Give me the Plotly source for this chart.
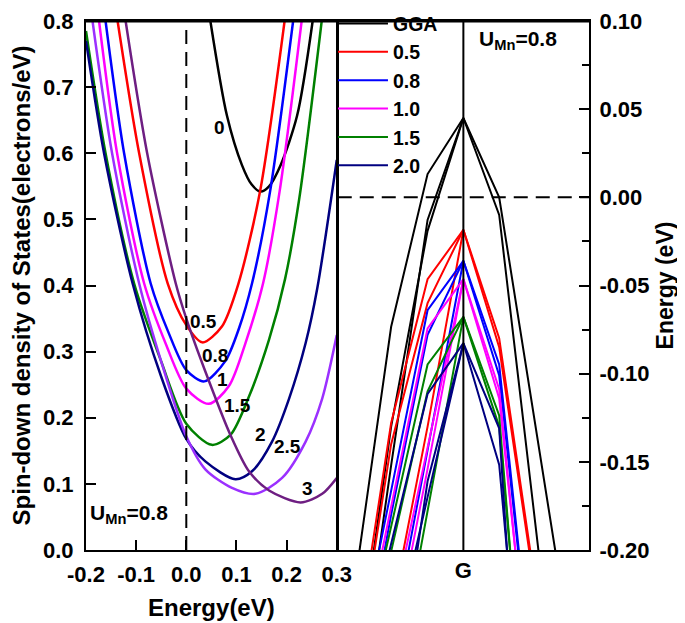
import plotly.graph_objects as go

# ---------------- Left panel: spin-down DOS vs energy ----------------
dos_labels = ["0", "0.5", "0.8", "1", "1.5", "2", "2.5", "3"]
dos_colors = ["#000000", "#FF0000", "#0000FF", "#FF00FF", "#008000", "#000080", "#9B30FF", "#6E1E82"]

e_u0 = [0.048, 0.081, 0.111, 0.130, 0.148, 0.165, 0.188, 0.221, 0.252]
d_u0 = [0.800, 0.657, 0.582, 0.553, 0.542, 0.550, 0.582, 0.657, 0.800]

e_u05 = [-0.137, -0.094, -0.037, 0.000, 0.032, 0.071, 0.104, 0.147, 0.196]
d_u05 = [0.800, 0.600, 0.403, 0.340, 0.314, 0.338, 0.403, 0.542, 0.800]

e_u08 = [-0.161, -0.124, -0.071, -0.035, 0.000, 0.036, 0.078, 0.105, 0.131, 0.167, 0.213]
d_u08 = [0.800, 0.600, 0.403, 0.328, 0.272, 0.255, 0.286, 0.335, 0.403, 0.542, 0.800]

e_u1 = [-0.174, -0.138, -0.084, -0.040, 0.000, 0.045, 0.085, 0.118, 0.153, 0.186, 0.230]
d_u1 = [0.800, 0.600, 0.403, 0.310, 0.244, 0.221, 0.248, 0.313, 0.403, 0.542, 0.800]

e_u15 = [-0.200, -0.161, -0.104, -0.050, 0.000, 0.051, 0.088, 0.125, 0.165, 0.197, 0.225, 0.270]
d_u15 = [0.785, 0.600, 0.403, 0.285, 0.191, 0.159, 0.174, 0.232, 0.318, 0.410, 0.530, 0.800]

e_u2 = [-0.200, -0.164, -0.107, -0.050, 0.000, 0.038, 0.098, 0.131, 0.171, 0.205, 0.238, 0.261, 0.300]
d_u2 = [0.770, 0.600, 0.403, 0.262, 0.168, 0.134, 0.107, 0.119, 0.164, 0.229, 0.313, 0.395, 0.590]

e_u25 = [-0.187, -0.148, -0.094, -0.050, 0.000, 0.038, 0.091, 0.138, 0.191, 0.238, 0.271, 0.300]
d_u25 = [0.800, 0.600, 0.403, 0.285, 0.172, 0.122, 0.094, 0.085, 0.109, 0.164, 0.229, 0.325]

e_u3 = [-0.121, -0.078, -0.021, 0.000, 0.038, 0.088, 0.125, 0.165, 0.228, 0.271, 0.300]
d_u3 = [0.800, 0.600, 0.403, 0.350, 0.270, 0.174, 0.119, 0.090, 0.072, 0.085, 0.109]

dos_e = [e_u0, e_u05, e_u08, e_u1, e_u15, e_u2, e_u25, e_u3]
dos_d = [d_u0, d_u05, d_u08, d_u1, d_u15, d_u2, d_u25, d_u3]

# curve label positions (energy, DOS)
label_e = [0.066, 0.034, 0.058, 0.072, 0.102, 0.148, 0.202, 0.242]
label_d = [0.639, 0.346, 0.294, 0.258, 0.219, 0.175, 0.157, 0.093]

left_xticks = [-0.2, -0.1, 0.0, 0.1, 0.2, 0.3]
left_xtext = ["-0.2", "-0.1", "0.0", "0.1", "0.2", "0.3"]
left_yticks = [0.0, 0.1, 0.2, 0.3, 0.4, 0.5, 0.6, 0.7, 0.8]
left_ytext = ["0.0", "0.1", "0.2", "0.3", "0.4", "0.5", "0.6", "0.7", "0.8"]

# ---------------- Right panel: bands around G ----------------
kpts = [-0.86, -0.575, -0.285, 0.0, 0.285, 0.575, 0.86]
band_names = ["GGA", "0.5", "0.8", "1.0", "1.5", "2.0"]
band_colors = ["#000000", "#FF0000", "#0000FF", "#FF00FF", "#008000", "#000080"]
gamma_e = [0.045, -0.0184, -0.036, -0.0464, -0.0678, -0.0827]

# energies at |k| = 0.285, 0.575, 0.86 (left branch) for three bands
gga_left = [[0.0132, -0.0734, -0.217], [-0.0128, -0.152, -0.295], [-0.019, -0.130, -0.275]]
u05_left = [[-0.0464, -0.128, -0.26], [-0.130, -0.235, -0.34], [-0.060, -0.140, -0.27]]
u08_left = [[-0.064, -0.166, -0.267], [-0.144, -0.253, -0.36], [-0.078, -0.180, -0.29]]
u10_left = [[-0.0743, -0.176, -0.275], [-0.142, -0.239, -0.34], [-0.154, -0.260, -0.36]]
u15_left = [[-0.0948, -0.186, -0.277], [-0.178, -0.290, -0.40], [-0.110, -0.200, -0.29]]
u20_left = [[-0.1115, -0.197, -0.28], [-0.170, -0.260, -0.35], [-0.161, -0.300, -0.40]]
# energies at k = 0.285, 0.575, 0.86 (right branch) for two bands
gga_right = [[0.0, -0.130, -0.258], [-0.010, -0.186, -0.36]]
u05_right = [[-0.0799, -0.221, -0.36], [-0.085, -0.225, -0.36]]
u08_right = [[-0.0948, -0.290, -0.48], [-0.101, -0.290, -0.48]]
u10_right = [[-0.1088, -0.315, -0.50], [-0.114, -0.315, -0.50]]
u15_right = [[-0.1237, -0.376, -0.60], [-0.130, -0.376, -0.60]]
u20_right = [[-0.131, -0.450, -0.70], [-0.1516, -0.380, -0.60]]

bands_left = [gga_left, u05_left, u08_left, u10_left, u15_left, u20_left]
bands_right = [gga_right, u05_right, u08_right, u10_right, u15_right, u20_right]

right_yticks = [0.10, 0.05, 0.0, -0.05, -0.10, -0.15, -0.20]
right_ytext = ["0.10", "0.05", "0.00", "-0.05", "-0.10", "-0.15", "-0.20"]

FONT = "Liberation Sans"
TICKFONT = dict(family=FONT, size=22, color="black", weight="bold")

fig = go.Figure()

for e, d, c in zip(dos_e, dos_d, dos_colors):
    fig.add_trace(go.Scatter(x=e, y=d, mode="lines",
                             line=dict(color=c, width=2.5, shape="spline", smoothing=0.8),
                             showlegend=False, xaxis="x", yaxis="y", hoverinfo="skip"))

for name, col, g, lft, rgt in zip(band_names, band_colors, gamma_e, bands_left, bands_right):
    for i in range(3):
        left_vals = lft[i]
        ks = kpts[:4]
        es = [left_vals[2], left_vals[1], left_vals[0], g]
        if i < 2:
            rv = rgt[i]
            ks = kpts
            es = es + [rv[0], rv[1], rv[2]]
        fig.add_trace(go.Scatter(x=ks, y=es, mode="lines", line=dict(color=col, width=2),
                                 name=name, showlegend=(i == 0),
                                 xaxis="x2", yaxis="y2", hoverinfo="skip"))

# reference lines
fig.add_shape(type="line", xref="x", yref="y domain", x0=0, x1=0, y0=0, y1=1,
              line=dict(color="black", width=2, dash="14px,8px"))
fig.add_shape(type="line", xref="x2 domain", yref="y2", x0=0, x1=1, y0=0, y1=0,
              line=dict(color="black", width=2, dash="14px,8px"))
fig.add_shape(type="line", xref="x2", yref="y2 domain", x0=0, x1=0, y0=0, y1=1,
              line=dict(color="black", width=2))
# top frame edges of both panels
fig.add_shape(type="line", xref="x domain", yref="y domain", x0=0, x1=1, y0=1, y1=1,
              line=dict(color="black", width=3), layer="above")
fig.add_shape(type="line", xref="x2 domain", yref="y2 domain", x0=0, x1=1, y0=1, y1=1,
              line=dict(color="black", width=3), layer="above")

for txt, ex, dy in zip(dos_labels, label_e, label_d):
    fig.add_annotation(x=ex, y=dy, xref="x", yref="y", text=txt, showarrow=False,
                       font=dict(family=FONT, size=19, color="black", weight="bold"))

fig.add_annotation(x=-0.197, y=0.055, xref="x", yref="y", xanchor="left", yanchor="middle",
                   text="U<sub>Mn</sub>=0.8", showarrow=False,
                   font=dict(family=FONT, size=21, color="black", weight="bold"))
fig.add_annotation(x=0.11, y=0.0895, xref="x2", yref="y2", xanchor="left", yanchor="middle",
                   text="U<sub>Mn</sub>=0.8", showarrow=False,
                   font=dict(family=FONT, size=21, color="black", weight="bold"))

axis_common = dict(showline=True, linewidth=2, linecolor="black", mirror=True, showgrid=False,
                   zeroline=False, tickfont=TICKFONT, tickcolor="black", tickwidth=2,
                   automargin=False, ticklabeloverflow="allow")

# the page body adds an 8px offset, so margins are shifted to keep the plot area in place
fig.update_layout(
    width=685, height=623,
    margin=dict(l=78, r=104, t=13, b=81, autoexpand=False),
    paper_bgcolor="white", plot_bgcolor="white",
    font=dict(family=FONT, color="black"),
    xaxis=dict(domain=[0, 0.4985], range=[-0.2, 0.3], tickvals=left_xticks, ticktext=left_xtext,
               ticks="inside", ticklen=10, anchor="y", ticklabelstandoff=4,
               title=dict(text="Energy(eV)", font=dict(family=FONT, size=24, color="black", weight="bold"),
                          standoff=13),
               **axis_common),
    yaxis=dict(domain=[0, 1], range=[0, 0.8], tickvals=left_yticks, ticktext=left_ytext,
               ticks="inside", ticklen=10, anchor="x", ticklabelstandoff=6,
               title=dict(text="Spin-down density of States(electrons/eV)",
                          font=dict(family=FONT, size=24, color="black", weight="bold"), standoff=12),
               **axis_common),
    xaxis2=dict(domain=[0.5005, 1], range=[-1, 1], tickvals=[0], ticktext=["G"], ticks="",
                anchor="y2", **axis_common),
    yaxis2=dict(domain=[0, 1], range=[-0.2, 0.1], tickvals=right_yticks, ticktext=right_ytext,
                ticks="inside", ticklen=10, side="right", anchor="x2", ticklabelstandoff=4,
                minor=dict(dtick=0.025, tick0=0, ticks="inside", ticklen=7, tickwidth=2, tickcolor="black"),
                title=dict(text="Energy (eV)", font=dict(family=FONT, size=23, color="black", weight="bold"),
                           standoff=8),
                **axis_common),
    legend=dict(x=0.491, y=1.0315, xanchor="left", yanchor="top", bgcolor="rgba(0,0,0,0)",
                font=dict(family=FONT, size=19.5, color="black", weight="bold"),
                tracegroupgap=0, itemwidth=50),
)

fig.write_html("out.html")
